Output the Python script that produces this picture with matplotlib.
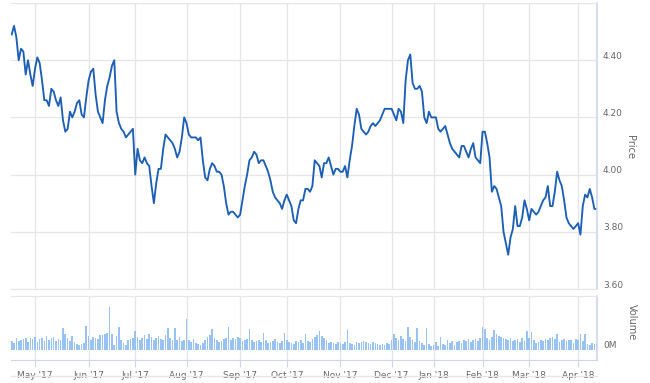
import numpy as np
import matplotlib
matplotlib.use('Agg')
import matplotlib.pyplot as plt
import matplotlib.transforms as mtransforms
from matplotlib.lines import Line2D

# daily closing price, split by month (trading days)
price_apr17 = [4.49, 4.52, 4.48, 4.40, 4.44, 4.43, 4.35, 4.40, 4.35, 4.31]
price_may17 = [4.37, 4.41, 4.39, 4.33, 4.26, 4.26, 4.24, 4.30, 4.29, 4.26, 4.24, 4.27,
               4.19, 4.15, 4.16, 4.22, 4.20, 4.22, 4.25, 4.26, 4.21, 4.20, 4.27]
price_jun17 = [4.33, 4.36, 4.37, 4.28, 4.22, 4.20, 4.18, 4.26, 4.31, 4.34, 4.38, 4.40,
               4.22, 4.18, 4.16, 4.15, 4.13, 4.14, 4.15, 4.16]
price_jul17 = [4.00, 4.09, 4.05, 4.04, 4.06, 4.04, 4.03, 3.96, 3.90, 3.97, 4.02, 4.02,
               4.09, 4.14, 4.13, 4.12, 4.11, 4.09, 4.06, 4.08, 4.13, 4.20]
price_aug17 = [4.18, 4.14, 4.13, 4.13, 4.13, 4.12, 4.13, 4.05, 3.99, 3.98, 4.02, 4.04,
               4.03, 4.01, 4.01, 4.00, 3.96, 3.90, 3.86, 3.87, 3.87, 3.86, 3.85]
price_sep17 = [3.86, 3.91, 3.96, 4.00, 4.05, 4.06, 4.08, 4.07, 4.04, 4.05, 4.05, 4.03,
               4.01, 3.98, 3.94, 3.92, 3.91, 3.90, 3.88, 3.91]
price_oct17 = [3.93, 3.91, 3.89, 3.84, 3.83, 3.88, 3.91, 3.91, 3.95, 3.95, 3.94, 3.96,
               4.05, 4.04, 4.03, 3.99, 4.04, 4.04, 4.06, 4.03, 4.00, 4.02, 4.02]
price_nov17 = [4.01, 4.01, 4.03, 3.99, 4.05, 4.10, 4.17, 4.23, 4.21, 4.16, 4.15, 4.14,
               4.15, 4.17, 4.18, 4.17, 4.18, 4.19, 4.21, 4.23, 4.23, 4.23]
price_dec17 = [4.23, 4.21, 4.19, 4.23, 4.22, 4.18, 4.33, 4.40, 4.42, 4.32, 4.30, 4.30,
               4.31, 4.29, 4.20, 4.18, 4.22, 4.20]
price_jan18 = [4.20, 4.20, 4.16, 4.15, 4.16, 4.17, 4.14, 4.11, 4.09, 4.08, 4.07, 4.06,
               4.10, 4.10, 4.08, 4.06, 4.09, 4.11, 4.06, 4.05, 4.04]
price_feb18 = [4.15, 4.15, 4.11, 4.06, 3.94, 3.96, 3.95, 3.92, 3.89, 3.80, 3.76, 3.72,
               3.78, 3.81, 3.89, 3.82, 3.82, 3.85, 3.91, 3.88]
price_mar18 = [3.84, 3.88, 3.87, 3.86, 3.87, 3.89, 3.91, 3.92, 3.96, 3.89, 3.89, 3.94,
               4.01, 3.98, 3.96, 3.91, 3.85, 3.83, 3.82, 3.81, 3.82]
price_apr18 = [3.83, 3.79, 3.89, 3.93, 3.92, 3.95, 3.92, 3.88, 3.88]

# daily volume (millions), same months
vol_apr17 = [0.9, 0.7, 1.2, 0.9, 1.0, 1.1, 1.2, 0.8, 1.2, 1.1]
vol_may17 = [1.3, 0.8, 1.1, 1.2, 0.9, 1.4, 1.0, 1.2, 1.3, 0.9, 1.1, 1.0,
             2.2, 1.6, 1.2, 0.9, 1.4, 0.8, 0.6, 0.5, 0.6, 0.7, 2.4]
vol_jun17 = [1.4, 1.0, 1.3, 1.2, 1.1, 1.5, 1.5, 1.6, 1.7, 4.3, 1.6, 0.5,
             1.4, 2.3, 1.0, 0.7, 0.5, 1.0, 1.1, 1.2]
vol_jul17 = [1.9, 1.3, 1.0, 1.2, 1.5, 1.1, 1.6, 1.3, 1.0, 1.2, 1.4, 1.1,
             1.0, 1.5, 2.2, 1.2, 1.0, 2.2, 1.0, 1.3, 0.9, 1.0]
vol_aug17 = [3.1, 1.0, 0.8, 1.1, 0.7, 0.6, 0.5, 0.7, 1.0, 1.3, 1.5, 2.1,
             1.2, 1.0, 0.8, 0.9, 1.1, 1.2, 2.3, 1.0, 1.2, 1.1, 1.3]
vol_sep17 = [1.2, 0.9, 1.0, 1.1, 2.1, 1.0, 0.8, 0.9, 1.0, 0.8, 1.7, 1.0,
             0.7, 0.8, 0.9, 1.1, 0.8, 0.7, 0.9, 1.7]
vol_oct17 = [1.0, 0.8, 0.7, 0.6, 0.9, 0.8, 1.0, 0.7, 1.6, 0.9, 0.8, 1.1,
             1.3, 1.5, 1.9, 1.4, 1.2, 1.0, 0.7, 0.8, 0.7, 0.6, 0.8]
vol_nov17 = [0.7, 0.6, 0.8, 2.0, 0.7, 0.6, 0.5, 0.8, 0.7, 0.8, 0.9, 0.8,
             0.7, 0.6, 0.8, 0.7, 0.6, 0.5, 0.6, 0.5, 0.7, 0.6]
vol_dec17 = [1.0, 1.6, 1.2, 1.0, 1.4, 1.1, 0.9, 2.3, 1.3, 1.0, 0.8, 2.2,
             0.9, 0.7, 0.5, 2.2, 0.6, 0.4]
vol_jan18 = [0.5, 0.8, 0.4, 1.3, 0.6, 0.5, 1.0, 0.7, 0.9, 0.5, 0.8, 0.9,
             0.7, 1.0, 0.9, 1.1, 0.8, 1.0, 1.1, 0.9, 1.2]
vol_feb18 = [2.3, 2.1, 1.2, 1.0, 1.3, 2.0, 1.6, 1.4, 1.3, 1.2, 1.1, 1.0,
             1.2, 0.9, 1.0, 1.1, 0.8, 1.2, 0.9, 1.9]
vol_mar18 = [1.2, 1.8, 1.0, 0.7, 0.8, 1.0, 0.9, 1.1, 1.0, 1.2, 1.3, 1.1,
             1.6, 0.8, 1.0, 1.1, 0.9, 1.0, 1.0, 0.7, 1.1]
vol_apr18 = [1.0, 1.6, 0.9, 1.6, 0.6, 0.5, 0.7, 0.6, 0.6]

month_labels = ["May '17", "Jun '17", "Jul '17", "Aug '17", "Sep '17", "Oct '17",
                "Nov '17", "Dec '17", "Jan '18", "Feb '18", "Mar '18", "Apr '18"]
price_ticks = [3.60, 3.80, 4.00, 4.20, 4.40]

price_parts = [price_apr17, price_may17, price_jun17, price_jul17, price_aug17, price_sep17,
               price_oct17, price_nov17, price_dec17, price_jan18, price_feb18, price_mar18,
               price_apr18]
vol_parts = [vol_apr17, vol_may17, vol_jun17, vol_jul17, vol_aug17, vol_sep17,
             vol_oct17, vol_nov17, vol_dec17, vol_jan18, vol_feb18, vol_mar18, vol_apr18]

price = np.concatenate(price_parts)
volume = np.concatenate(vol_parts)
x = np.arange(len(price))
month_starts = np.cumsum([len(p) for p in price_parts])[:-1]

W, H = 650, 383
grid_c = '#e6e6e6'
axis_c = '#ccd6eb'
text_c = '#666666'
plt.rcParams['font.family'] = 'DejaVu Sans'

fig = plt.figure(figsize=(W / 100, H / 100), dpi=100)
fig.patch.set_facecolor('white')


def px_rect(x0, y0, x1, y1):
    return [x0 / W, 1 - y1 / H, (x1 - x0) / W, (y1 - y0) / H]


ax = fig.add_axes(px_rect(11, 3, 597, 289))
vax = fig.add_axes(px_rect(11, 296, 597, 360), sharex=ax)

# price pane
ax.plot(x, price, color='#1c5fb5', lw=1.35, solid_joinstyle='round')
ax.set_xlim(-0.3, len(x) - 0.9)
ax.set_ylim(3.6, 4.6)
ax.set_yticks(price_ticks + [4.6])
ax.set_xticks(month_starts)
ax.grid(True, color=grid_c, lw=0.9)
ax.set_axisbelow(True)
ax.tick_params(axis='both', length=0, labelleft=False, labelbottom=False)
ax.spines['left'].set_visible(False)
for side in ['top', 'bottom']:
    ax.spines[side].set_color(grid_c)
ax.spines['right'].set_color(axis_c)
ax.spines['right'].set_linewidth(1.2)

off = mtransforms.ScaledTranslation(6 / 100, 4 / 100, fig.dpi_scale_trans)
tr = mtransforms.blended_transform_factory(ax.transAxes, ax.transData) + off
for v in price_ticks:
    ax.text(1.0, v, f'{v:.2f}', transform=tr, ha='left', va='center',
            fontsize=6.5, color=text_c, clip_on=False)

# volume pane
vax.bar(x, volume, width=0.7, color='#98c2f2', linewidth=0)
vax.set_ylim(-1.0, 5.4)
vax.set_yticks([])
vax.grid(True, axis='x', color=grid_c, lw=0.9)
vax.set_axisbelow(True)
vax.set_xticks(month_starts)
vax.set_xticklabels(month_labels)
vax.tick_params(axis='x', length=5, color=axis_c, labelsize=6.5, labelcolor=text_c, pad=3)
vax.spines['left'].set_visible(False)
vax.spines['top'].set_color(grid_c)
vax.spines['bottom'].set_color(axis_c)
vax.spines['right'].set_color(axis_c)
vax.spines['right'].set_linewidth(1.2)
vtr = mtransforms.blended_transform_factory(vax.transAxes, vax.transData) + off
vax.text(1.0, 0, '0M', transform=vtr, ha='left', va='center',
         fontsize=6.5, color=text_c, clip_on=False)

# axis titles
fig.text(630 / W, 1 - 147 / H, 'Price', rotation=270, ha='center', va='center',
         fontsize=7, color=text_c)
fig.text(632 / W, 1 - 322 / H, 'Volume', rotation=270, ha='center', va='center',
         fontsize=7, color=text_c)

fig.add_artist(Line2D([11 / W, 597 / W], [1 - 376 / H, 1 - 376 / H], color=grid_c, lw=1))

fig.savefig('out.png', dpi=100, facecolor='white')
